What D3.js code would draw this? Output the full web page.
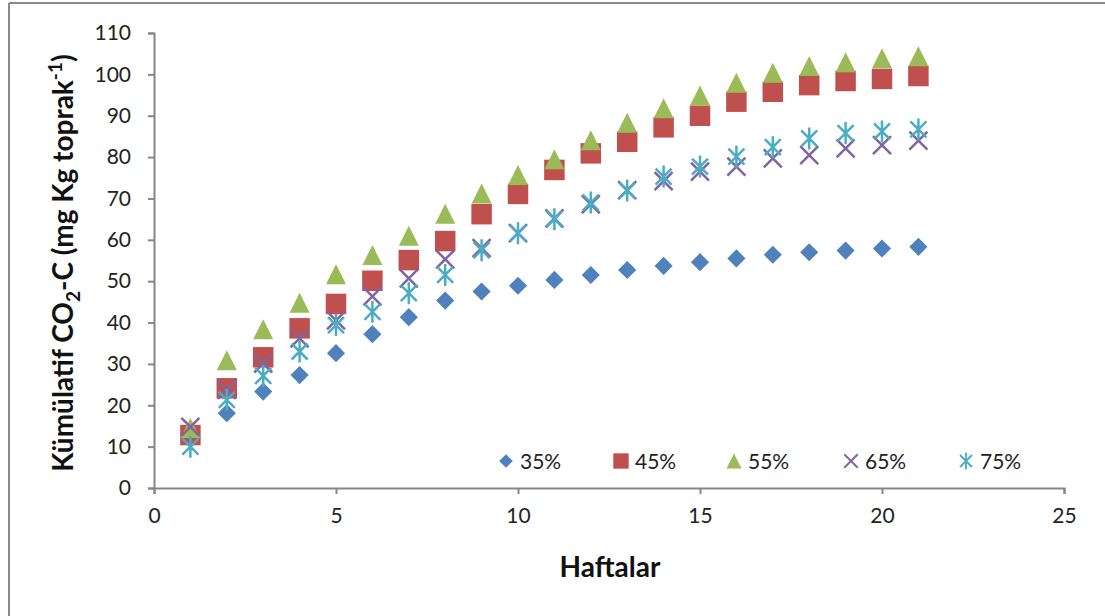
<!DOCTYPE html>
<html><head><meta charset="utf-8">
<script src="https://cdn.jsdelivr.net/npm/d3@7"></script>
<style>html,body{margin:0;padding:0;background:#fff;}svg{display:block;}</style>
</head><body>
<svg id="chart" width="1105" height="616"></svg>
<script>
const weeks = d3.range(1, 22);
const s35 = [12.5,18.1,23.3,27.3,32.6,37.2,41.3,45.3,47.5,48.9,50.3,51.5,52.7,53.7,54.6,55.5,56.4,57.0,57.4,57.9,58.3];
const s45 = [12.8,24.1,31.6,38.6,44.5,50.1,55.1,59.7,66.2,71.1,76.9,80.9,83.7,87.2,90.0,93.4,95.8,97.4,98.4,98.9,99.6];
const s55 = [14.5,30.9,38.4,44.8,51.7,56.3,61.0,66.3,71.2,75.7,79.5,84.1,88.3,91.8,94.9,98.0,100.4,102.0,102.9,103.9,104.4];
const s65 = [14.8,23.7,30.1,36.2,40.5,46.3,50.7,55.3,58.0,61.6,65.2,68.6,72.0,74.2,76.5,77.7,79.7,80.5,82.1,82.9,84.0];
const s75 = [10.0,21.3,27.1,33.0,39.4,42.6,47.1,51.5,57.5,61.6,65.0,69.0,71.9,75.3,77.7,80.1,82.4,84.5,85.8,86.2,86.7];
const seriesNames = ["35%","45%","55%","65%","75%"];
const seriesColors = ["#4F81BD","#C0504D","#9BBB59","#8064A2","#4BACC6"];
const seriesShapes = ["diamond","square","triangle","x","star"];
const xTicks = [0,5,10,15,20,25];
const yTicks = d3.range(0,111,10);

const svg = d3.select("#chart");
const font = "Lato, 'Open Sans', sans-serif";

// frame
svg.append("line").attr("x1",9).attr("x2",1105).attr("y1",3).attr("y2",3).attr("stroke","#888").attr("stroke-width",2);
svg.append("line").attr("x1",9).attr("x2",9).attr("y1",3).attr("y2",616).attr("stroke","#888").attr("stroke-width",2);

const x = d3.scaleLinear().domain([0,25]).range([154,1064]);
const y = d3.scaleLinear().domain([0,110]).range([488,33]);

const xAxis = svg.append("g").attr("transform","translate(0,488)")
  .call(d3.axisBottom(x).tickValues(xTicks).tickSize(6).tickPadding(14));
const yAxis = svg.append("g").attr("transform","translate(154,0)")
  .call(d3.axisLeft(y).tickValues(yTicks).tickSize(6).tickPadding(17));
[xAxis,yAxis].forEach(a=>{
  a.select(".domain").attr("stroke","#868686").attr("stroke-width",2);
  a.selectAll(".tick line").attr("stroke","#868686").attr("stroke-width",2);
  a.selectAll(".tick text").attr("fill","#222").style("font-family",font).style("font-size","21px");
});

function sym(shape){
  if(shape==="diamond") return d3.symbol(d3.symbolDiamond2, 210)();
  if(shape==="square") return d3.symbol(d3.symbolSquare, 420)();
  if(shape==="triangle") return "M0,-10L10,10L-10,10Z";
  if(shape==="x") return "M-9,-9L9,9M9,-9L-9,9";
  if(shape==="star") return "M-8,-8L8,8M8,-8L-8,8M0,-11L0,11";
}
function drawMarker(g, shape, color){
  const p = g.append("path").attr("d", sym(shape));
  if(shape==="x"||shape==="star") p.attr("fill","none").attr("stroke",color).attr("stroke-width",2.5);
  else p.attr("fill",color);
}
const allSeries = [s35,s45,s55,s65,s75];
allSeries.forEach((vals,i)=>{
  const g = svg.append("g");
  vals.forEach((v,j)=>{
    const m = g.append("g").attr("transform",`translate(${x(weeks[j])},${y(v)})`);
    drawMarker(m, seriesShapes[i], seriesColors[i]);
  });
});

// legend
const legX = [506,621,734,851,966];
seriesNames.forEach((n,i)=>{
  const g = svg.append("g").attr("transform",`translate(${legX[i]},461)`);
  const m = g.append("g").attr("transform","scale(0.75)");
  drawMarker(m, seriesShapes[i], seriesColors[i]);
  g.append("text").attr("x",14).attr("y",7.5).text(n).attr("fill","#222")
    .style("font-family",font).style("font-size","21px");
});

// axis titles
svg.append("text").attr("x",610).attr("y",577).attr("text-anchor","middle")
  .style("font-family",font).style("font-size","28px").style("font-weight","bold").attr("fill","#111").text("Haftalar");
const yt = svg.append("text").attr("transform","translate(73,263) rotate(-90)").attr("text-anchor","middle")
  .style("font-family",font).style("font-size","28px").style("font-weight","bold").attr("fill","#111");
yt.append("tspan").text("Kümülatif CO");
yt.append("tspan").attr("dy",7).style("font-size","19px").text("2");
yt.append("tspan").attr("dy",-7).text("-C (mg Kg toprak");
yt.append("tspan").attr("dy",-11).style("font-size","19px").text("-1");
yt.append("tspan").attr("dy",11).text(")");
</script>
</body></html>
